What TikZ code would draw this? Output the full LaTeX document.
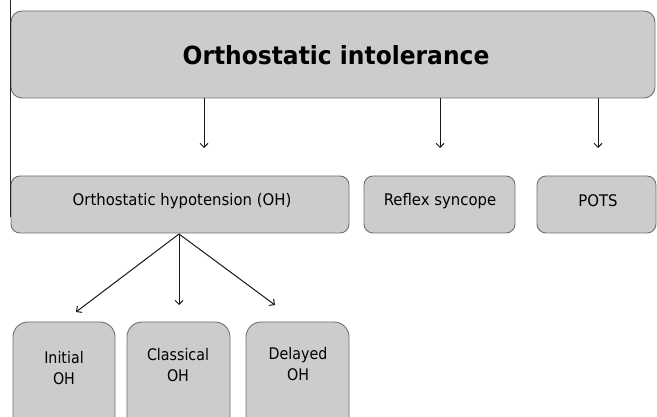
\documentclass[tikz,border=0pt]{standalone}
\usepackage{fontspec}
\setmainfont{DejaVu Sans}
\newfontfamily\titlefont[FakeStretch=0.935]{DejaVu Sans}
\newfontfamily\midfont[FakeStretch=0.93]{DejaVu Sans}
\newfontfamily\lowfont[FakeStretch=0.89]{DejaVu Sans}
\usetikzlibrary{arrows.meta}
\definecolor{boxfill}{HTML}{CCCCCC}
\definecolor{boxline}{HTML}{707070}
\tikzset{
  gbox/.style={draw=boxline, fill=boxfill, line width=0.9pt, rounded corners=#1},
  gbox/.default=9pt,
  arr/.style={draw=black!90, line width=1pt, -{Straight Barb[length=4pt,width=8pt]}},
  lbl/.style={inner sep=0pt, align=center, font=\midfont\fontsize{16}{21}\selectfont},
  lowlbl/.style={inner sep=0pt, align=center, font=\lowfont\fontsize{16}{21}\selectfont}
}
\begin{document}
\begin{tikzpicture}[x=1pt,y=-1pt]
\useasboundingbox (0,0) rectangle (657,417);
\clip (0,0) rectangle (657,417);
% boxes
\draw[gbox=11pt] (11,11) rectangle (655,98);
\node[inner sep=0pt, font=\titlefont\fontsize{25}{28}\selectfont\bfseries] (top) at (336,55) {Orthostatic intolerance};
\coordinate (topS) at (333,98);
\draw[gbox] (11,176) rectangle (349,233);
\node[lbl] (oh) at (182,201) {Orthostatic hypotension (OH)};
\draw[gbox] (364,176) rectangle (515,233);
\node[lbl] (rs) at (440,201) {Reflex syncope};
\draw[gbox] (537,176) rectangle (656,233);
\node[lbl] (pots) at (598,201) {POTS};
\coordinate (ohS) at (179,234);
\draw[gbox=15pt] (13,322) rectangle (115,445);
\node[lowlbl] (ini) at (64,368) {Initial\\OH};
\draw[gbox=15pt] (127,322) rectangle (230,445);
\node[lowlbl] (cla) at (178,365) {Classical\\OH};
\draw[gbox=15pt] (246,322) rectangle (349,445);
\node[lowlbl] (del) at (298,364) {Delayed\\OH};
% left line
\coordinate (lt) at (10,0);
\coordinate (lb) at (10,217);
\draw[line width=1pt, black!85] (lt) -- (lb);
% arrows from top
\coordinate (a1) at (204,148);
\coordinate (a2) at (440,148);
\coordinate (a3) at (598,148);
\draw[arr] (topS -| a1) -- (a1);
\draw[arr] (topS -| a2) -- (a2);
\draw[arr] (topS -| a3) -- (a3);
% arrows from OH
\coordinate (b1) at (76,312);
\coordinate (b2) at (179,305);
\coordinate (b3) at (275,305);
\draw[arr] (ohS) -- (b1);
\draw[arr] (ohS) -- (b2);
\draw[arr] (ohS) -- (b3);
\end{tikzpicture}
\end{document}
